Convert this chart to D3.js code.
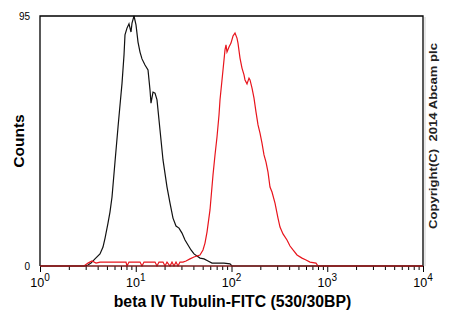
<!DOCTYPE html>
<html>
<head>
<meta charset="utf-8">
<script src="https://cdn.jsdelivr.net/npm/d3@7"></script>
<style>
  html, body { margin: 0; padding: 0; background: #fff; }
  svg { display: block; }
  text { font-family: "Liberation Sans", Arial, sans-serif; }
</style>
</head>
<body>
<svg id="chart" width="450" height="328"></svg>
<script>
// Isotype / unstained control histogram (black): fluorescence intensity and event counts
const controlIntensity = [1, 2.95, 3.17, 3.41, 3.75, 4.23, 4.55, 4.78, 5.13, 5.38, 5.65, 6.07, 6.53, 6.85, 7.19, 7.54, 7.72, 8.10, 8.50, 8.92, 9.14, 9.59, 10.06, 10.56, 11.08, 11.62, 12.49, 13.43, 14.09, 14.43, 15.14, 15.89, 16.67, 17.92, 19.26, 21.21, 22.79, 24.49, 26.33, 28.30, 30.41, 32.69, 35.13, 37.76, 40.59, 43.62, 46.88, 51.62, 56.84, 62.55, 72.28, 83.51, 96.45, 101.2, 10000];
const controlCounts    = [0, 0, 0.4, 1.1, 2.7, 4.6, 7.2, 10.6, 16.3, 20.5, 26.2, 39.5, 52.8, 61.2, 69.5, 80.2, 87.8, 90.4, 92.0, 88.9, 92.3, 95, 91.6, 85.1, 81.3, 78.7, 76.4, 74.5, 66.9, 61.9, 66.1, 65.7, 63.1, 51.7, 40.3, 30.0, 23.9, 18.2, 15.2, 14.4, 12.5, 9.9, 8.0, 6.1, 4.6, 3.8, 3.0, 2.7, 1.9, 1.1, 1.1, 1.1, 0.8, 0, 0];

// beta IV Tubulin-FITC stained histogram (red)
const stainedIntensity = [1, 2.88, 3.17, 3.49, 3.85, 4.23, 4.66, 5.38, 6.07, 6.85, 7.91, 8.10, 8.50, 11.08, 11.62, 12.20, 15.89, 16.67, 17.49, 19.26, 20.21, 21.21, 22.79, 23.91, 25.09, 26.33, 27.63, 28.98, 31.15, 33.48, 36.87, 40.59, 43.62, 46.88, 50.38, 52.87, 55.48, 59.63, 64.09, 67.25, 70.56, 74.04, 75.84, 79.58, 81.52, 85.53, 87.62, 89.74, 94.17, 98.80, 103.7, 108.8, 114.1, 116.9, 122.7, 128.7, 135.1, 138.4, 145.2, 152.3, 156.1, 163.8, 171.8, 180.3, 189.2, 198.5, 208.2, 218.5, 229.3, 240.6, 252.4, 264.9, 284.7, 305.9, 321.0, 345.1, 379.8, 408.3, 438.9, 483.2, 545.0, 600.0, 660.3, 762.9, 800.6, 10000];
const stainedCounts    = [0, 0, 1.1, 1.9, 1.1, 1.5, 1.5, 1.5, 1.5, 1.5, 1.5, 0, 1.5, 1.5, 0, 1.5, 1.5, 0, 1.5, 1.5, 0, 1.5, 0, 1.5, 0, 1.5, 0, 1.5, 1.5, 1.9, 2.7, 3.4, 3.8, 4.2, 6.1, 8.7, 12.9, 21.3, 34.6, 42.2, 49.0, 57.4, 63.1, 70.7, 74.5, 82.1, 84.0, 81.3, 83.2, 84.7, 87.4, 88.5, 86.6, 84.7, 79.0, 75.2, 72.6, 70.7, 69.2, 71.4, 70.7, 67.6, 63.8, 58.5, 53.6, 50.5, 46.7, 42.2, 39.5, 35.7, 30.0, 28.1, 23.9, 18.2, 14.8, 12.2, 9.9, 7.6, 6.1, 4.2, 3.0, 2.3, 1.5, 1.1, 0, 0];

// Axis ticks and labels
const xMajorExponents = [0, 1, 2, 3, 4];
const yTickValues = [0, 95];
const xTitle = "beta IV Tubulin-FITC (530/30BP)";
const yTitle = "Counts";
const credit = "Copyright(C)  2014 Abcam plc";

const svg = d3.select("#chart");
const margin = { left: 40, right: 423, top: 16, bottom: 266 };

const x = d3.scaleLog().domain([1, 10000]).range([margin.left, margin.right]);
const y = d3.scaleLinear().domain([0, 95]).range([margin.bottom, margin.top]);

const isDecade = d => Math.abs(Math.log10(d) - Math.round(Math.log10(d))) < 1e-9;

// Minor + major ticks along the log axis
const xAxis = d3.axisBottom(x)
  .tickValues(x.ticks())
  .tickSizeOuter(0)
  .tickFormat("");
const gx = svg.append("g")
  .attr("transform", `translate(0,${margin.bottom})`)
  .call(xAxis);
gx.select(".domain").remove();
gx.selectAll(".tick line")
  .attr("stroke", "#000")
  .attr("stroke-width", 1)
  .attr("y2", d => isDecade(d) ? 6 : 4);

// Decade labels as 10 with superscript exponent
const decade = svg.append("g");
xMajorExponents.forEach(e => {
  const t = decade.append("text")
    .attr("x", x(Math.pow(10, e)))
    .attr("y", 287)
    .attr("text-anchor", "middle")
    .attr("font-size", 12.5)
    .attr("fill", "#000");
  t.append("tspan").text("10");
  t.append("tspan").attr("dy", -6).attr("font-size", 10).text(e);
});

// Y labels at top and bottom only
svg.append("g").selectAll("text")
  .data(yTickValues)
  .join("text")
  .attr("x", 30)
  .attr("y", d => y(d) + 4)
  .attr("text-anchor", "end")
  .attr("font-size", 10)
  .attr("fill", "#000")
  .text(d => d);

// Histogram traces
const line = d3.line().x(d => x(d[0])).y(d => y(d[1]));

svg.append("path")
  .datum(d3.zip(controlIntensity, controlCounts))
  .attr("d", line)
  .attr("fill", "none")
  .attr("stroke", "#111")
  .attr("stroke-width", 1.2);

svg.append("path")
  .datum(d3.zip(stainedIntensity, stainedCounts))
  .attr("d", line)
  .attr("fill", "none")
  .attr("stroke", "#e8141c")
  .attr("stroke-width", 1.2);

// Plot frame with a faint shadow on the right edge
svg.append("line")
  .attr("x1", margin.right + 2).attr("x2", margin.right + 2)
  .attr("y1", margin.top + 1).attr("y2", margin.bottom)
  .attr("stroke", "#d0d0d0").attr("stroke-width", 1);
svg.append("path")
  .attr("d", `M${margin.left},${margin.bottom}V${margin.top}H${margin.right}V${margin.bottom}`)
  .attr("fill", "none")
  .attr("stroke", "#000")
  .attr("stroke-width", 1.3);
svg.append("line")
  .attr("x1", margin.left).attr("x2", margin.right)
  .attr("y1", margin.bottom).attr("y2", margin.bottom)
  .attr("stroke", "#7a1a1a").attr("stroke-width", 1.6);

// Titles
svg.append("text")
  .attr("x", (margin.left + margin.right) / 2 + 1)
  .attr("y", 307)
  .attr("text-anchor", "middle")
  .attr("font-size", 15.8)
  .attr("font-weight", "bold")
  .attr("fill", "#000")
  .text(xTitle);

svg.append("text")
  .attr("transform", "translate(24,141) rotate(-90)")
  .attr("text-anchor", "middle")
  .attr("font-size", 15.5)
  .attr("font-weight", "bold")
  .attr("fill", "#000")
  .text(yTitle);

svg.append("text")
  .attr("transform", "translate(437,136) rotate(-90)")
  .attr("text-anchor", "middle")
  .attr("font-size", 11.5)
  .attr("font-weight", "bold")
  .attr("fill", "#222")
  .attr("textLength", 186)
  .attr("lengthAdjust", "spacingAndGlyphs")
  .style("white-space", "pre")
  .text(credit);
</script>
</body>
</html>
